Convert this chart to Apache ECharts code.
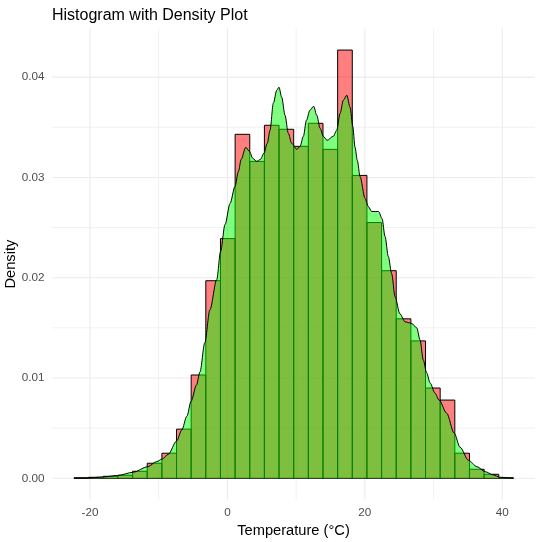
<!DOCTYPE html>
<html><head><meta charset="utf-8">
<script src="https://cdn.jsdelivr.net/npm/echarts@6/dist/echarts.min.js"></script>
<style>html,body{margin:0;padding:0;background:#fff}#c{width:539px;height:542px}</style>
</head><body><div id="c"></div>
<script>
// Histogram bin edges (°C) and bar densities
const binEdges = [-22.33,-20.198,-18.067,-15.935,-13.804,-11.672,-9.540,-7.409,-5.277,-3.146,-1.014,1.118,3.249,5.381,7.512,9.644,11.776,13.907,16.039,18.170,20.302,22.434,24.565,26.697,28.828,30.960,33.092,35.223,37.355,39.486,41.618];
const binDensity = [0.00005,0.0001,0.0002,0.0003,0.0007,0.0015,0.0025,0.0049,0.0103,0.0197,0.0239,0.0343,0.0316,0.0352,0.0348,0.0331,0.0354,0.0328,0.0427,0.0302,0.0255,0.0207,0.0159,0.0137,0.0090,0.0078,0.0025,0.0009,0.0004,0.00005];

// Kernel density curve
const densityX = [-22.33,-20.5,-18.1,-16.0,-13.7,-11.6,-10.3,-9.54,-8.6,-7.41,-6.65,-5.9,-5.28,-4.5,-4.0,-3.3,-2.55,-1.56,-1.0,-0.35,0.38,1.1,1.6,2.0,2.66,3.2,3.7,4.26,4.8,5.3,5.8,6.2,6.68,7.18,7.5,7.9,8.38,8.86,9.35,10.1,10.57,11.05,11.5,12.0,12.55,13.0,13.48,13.96,14.5,15.4,15.9,16.4,16.87,17.37,17.85,18.24,18.57,18.9,19.3,20.03,20.5,21.0,22.0,22.5,22.94,23.42,23.9,24.4,25.1,25.85,26.8,27.55,28.03,28.5,29.0,29.5,30.2,30.8,31.9,33.0,33.85,35.07,36.3,37.5,38.7,39.7,41.618];
const densityY = [0,0.00002,0.00013,0.00028,0.0006,0.00116,0.00166,0.0019,0.0024,0.0037,0.0048,0.0062,0.0077,0.0093,0.0106,0.0135,0.0168,0.0198,0.0226,0.0253,0.0274,0.0291,0.0306,0.0318,0.0330,0.0326,0.0319,0.0316,0.0318,0.0324,0.0334,0.0347,0.0374,0.0387,0.0390,0.0380,0.0362,0.0344,0.0334,0.0328,0.0331,0.0341,0.0357,0.0367,0.0371,0.0362,0.0349,0.0341,0.0337,0.0341,0.0347,0.0364,0.0377,0.0382,0.0370,0.0351,0.0330,0.0317,0.0301,0.0279,0.0271,0.0266,0.0266,0.0259,0.0241,0.0221,0.0204,0.0181,0.0164,0.0156,0.01545,0.0150,0.0138,0.0118,0.0105,0.0095,0.0085,0.0078,0.0065,0.0045,0.0031,0.0018,0.00116,0.00066,0.00033,0.0001,0];

// Ticks / gridlines
const xMajorTicks = [-20,0,20,40];
const xMinorTicks = [-10,10,30];
const yMajorTicks = [0,0.01,0.02,0.03,0.04];
const yMinorTicks = [0.005,0.015,0.025,0.035];
const xRange = [-25.53,44.76];
const yRange = [-0.002135,0.04484];

const FONT = "'Liberation Sans', Arial, sans-serif";
const chart = echarts.init(document.getElementById('c'), null, {renderer:'canvas'});

const barData = binDensity.map((d,i)=>[binEdges[i], binEdges[i+1], d]);
const gridData = [];
xMajorTicks.forEach(v=>gridData.push([v,0,0]));
xMinorTicks.forEach(v=>gridData.push([v,0,1]));
yMajorTicks.forEach(v=>gridData.push([0,v,2]));
yMinorTicks.forEach(v=>gridData.push([0,v,3]));

chart.setOption({
  animation:false,
  backgroundColor:'#fff',
  title:{text:'Histogram with Density Plot', left:52, top:7.5, padding:0,
    textStyle:{fontFamily:FONT, fontSize:16, fontWeight:'normal', color:'#000'}},
  grid:{left:52, right:4, top:28.6, bottom:42.3, containLabel:false, outerBoundsMode:'none'},
  xAxis:{type:'value', min:xRange[0], max:xRange[1],
    name:'Temperature (°C)', nameLocation:'middle', nameGap:23.5, nameMoveOverlap:false,
    nameTextStyle:{fontFamily:FONT, fontSize:14.67, color:'#000', verticalAlign:'top'},
    axisLine:{show:false}, axisTick:{show:false}, splitLine:{show:false},
    axisLabel:{customValues:xMajorTicks, fontFamily:FONT, fontSize:11.7, color:'#4D4D4D', margin:7,
      formatter:v=>String(v)}},
  yAxis:{type:'value', min:yRange[0], max:yRange[1],
    name:'Density', nameLocation:'middle', nameGap:34, nameMoveOverlap:false,
    nameTextStyle:{fontFamily:FONT, fontSize:14.67, color:'#000'},
    axisLine:{show:false}, axisTick:{show:false}, splitLine:{show:false},
    axisLabel:{customValues:yMajorTicks, fontFamily:FONT, fontSize:11.7, color:'#4D4D4D', margin:7.5,
      formatter:v=>v.toFixed(2)}},
  series:[
    {type:'custom', silent:true, z:0, data:gridData, encode:{x:0,y:1},
      renderItem:(params, api)=>{
        const kind = api.value(2);
        let p0, p1;
        if (kind < 2) { p0 = api.coord([api.value(0), yRange[0]]); p1 = api.coord([api.value(0), yRange[1]]); }
        else { p0 = api.coord([xRange[0], api.value(1)]); p1 = api.coord([xRange[1], api.value(1)]); }
        return {type:'line', shape:{x1:p0[0], y1:p0[1], x2:p1[0], y2:p1[1]},
          style:{stroke:'#EBEBEB', lineWidth:(kind%2===0)?1.1:0.7}};
      }},
    {type:'custom', silent:true, z:2, data:barData, encode:{x:[0,1], y:2},
      renderItem:(params, api)=>{
        const p0 = api.coord([api.value(0), api.value(2)]);
        const p1 = api.coord([api.value(1), 0]);
        return {type:'rect', shape:{x:p0[0], y:p0[1], width:p1[0]-p0[0], height:p1[1]-p0[1]},
          style:{fill:'rgba(255,0,0,0.5)', stroke:'#000', lineWidth:1}};
      }},
    {type:'line', z:3, silent:true, symbol:'none', smooth:0.3, smoothMonotone:'x',
      data:densityX.map((x,i)=>[x, densityY[i]]),
      lineStyle:{color:'#000', width:1},
      areaStyle:{color:'rgba(0,255,0,0.5)', opacity:1}}
  ]
});
</script></body></html>
